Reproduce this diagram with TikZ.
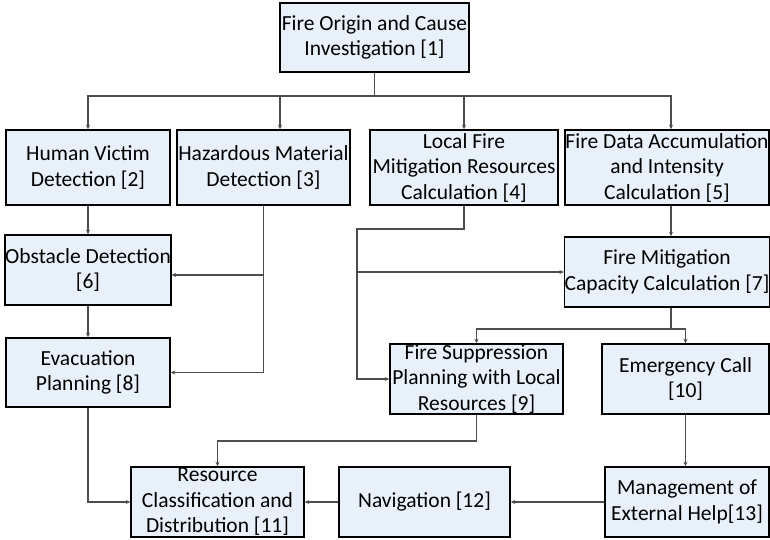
\documentclass[tikz,border=0pt]{standalone}
\usepackage{fontspec}
\setmainfont{Carlito}
\usepackage{tikz}
\usetikzlibrary{arrows.meta, calc}
\definecolor{boxfill}{HTML}{E8F0FA}
\definecolor{linegray}{HTML}{4D4D4D}
\tikzset{
  box/.style={draw=black, line width=1.5pt, fill=boxfill, align=center, inner sep=0pt,
    font=\fontsize{21.5}{25.5}\selectfont},
  arr/.style={draw=linegray, line width=1.5pt, -{Stealth[length=4.5pt,width=4pt]}},
  ln/.style={draw=linegray, line width=1.5pt}
}

\begin{document}
\begin{tikzpicture}[x=1pt,y=-1pt]
        \useasboundingbox (0,0) rectangle (770,539);
        \node[box, minimum width=189pt, minimum height=69pt] (n1) at (374.5,37.5) {Fire Origin and Cause\\Investigation [1]};
        \node[box, minimum width=164pt, minimum height=75pt] (n2) at (88,167.5) {Human Victim\\Detection [2]};
        \node[box, minimum width=173pt, minimum height=75pt] (n3) at (263.5,167.5) {Hazardous Material\\Detection [3]};
        \node[box, minimum width=188pt, minimum height=75pt] (n4) at (464,167.5) {Local Fire\\Mitigation Resources\\Calculation [4]};
        \node[box, minimum width=204pt, minimum height=75pt] (n5) at (667,167.5) {Fire Data Accumulation\\and Intensity\\Calculation [5]};
        \node[box, minimum width=164pt, minimum height=70pt] (n6) at (88,270) {Obstacle Detection\\{}[6]};
        \node[box, minimum width=204pt, minimum height=70pt] (n7) at (667,272) {Fire Mitigation\\Capacity Calculation [7]};
        \node[box, minimum width=164pt, minimum height=69pt] (n8) at (88,372.5) {Evacuation\\Planning [8]};
        \node[box, minimum width=173pt, minimum height=70pt] (n9) at (476.5,379) {Fire Suppression\\Planning with Local\\Resources [9]};
        \node[box, minimum width=167pt, minimum height=70pt] (n10) at (685.5,379) {Emergency Call\\{}[10]};
        \node[box, minimum width=173pt, minimum height=70pt] (n11) at (217.5,502) {Resource\\Classification and\\Distribution [11]};
        \node[box, minimum width=171pt, minimum height=70pt] (n12) at (424.5,502) {Navigation [12]};
        \node[box, minimum width=164pt, minimum height=70pt] (n13) at (687,502) {Management of\\External Help[13]};

        \coordinate (j1) at ($(n1.south)+(0,23)$);
        \coordinate (j4) at ($(n4.south)+(-107,23)$);
        \coordinate (j7) at ($(n7.south)+(0,21)$);

        \draw[ln] (n1.south) -- (j1);
        \draw[arr] (j1) -| (n2.north);
        \draw[arr] (j1) -| ([xshift=16.5pt]n3.north);
        \draw[arr] (j1) -| (n4.north);
        \draw[arr] (j1) -| ([xshift=4pt]n5.north);

        \draw[arr] (n2) -- (n6);
        \draw[arr] (n6) -- (n8);
        \draw[arr] (n3.south) |- (n8.east);
        \draw[arr] ($(n3.south |- n6.east)+(0,5)$) -- ([yshift=-5pt]n6.east);

        \draw[arr] (n4.south) |- (j4) |- (n9.west);
        \draw[arr] (j4 |- n7.west) -- (n7.west);
        \draw[arr] ([xshift=4pt]n5.south) -- ([xshift=4pt]n7.north);

        \draw[ln] ([xshift=4pt]n7.south) -- ([xshift=4pt]j7);
        \draw[arr] ([xshift=4pt]j7) -| (n9.north);
        \draw[arr] ([xshift=4pt]j7) -| (n10.north);

        \draw[arr] (n9.south) -- ++(0,26) -| (n11.north);
        \draw[arr] (n8.south) |- (n11.west);
        \draw[arr] (n10.south) -- (n10.south |- n13.north);
        \draw[arr] (n13) -- (n12);
        \draw[arr] (n12) -- (n11);
    \end{tikzpicture}
\end{document}
